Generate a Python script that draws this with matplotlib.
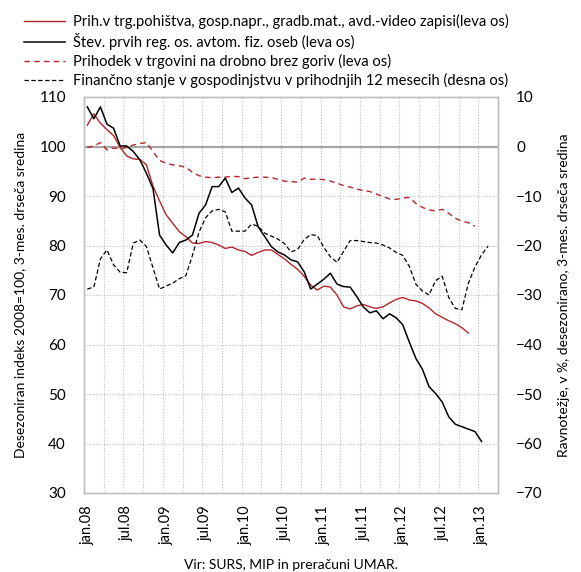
import matplotlib
matplotlib.use("Agg")
import matplotlib.pyplot as plt
import pandas as pd

plt.rcParams['font.family'] = ['Lato', 'DejaVu Sans']

months = pd.period_range('2008-01', '2013-03', freq='M')
tick_idx = [0, 6, 12, 18, 24, 30, 36, 42, 48, 54, 60]
tick_labels = ['jan.08', 'jul.08', 'jan.09', 'jul.09', 'jan.10', 'jul.10',
               'jan.11', 'jul.11', 'jan.12', 'jul.12', 'jan.13']

# Left axis series (index 2008=100)
furniture = [104.3, 106.6, 104.7, 103.4, 102.2, 99.8, 98.1, 97.5, 97.4, 96.3,
             92.0, 89.0, 86.2, 84.5, 82.8, 81.8, 80.5, 80.4, 80.8, 80.6,
             80.1, 79.4, 79.7, 79.1, 78.8, 78.0, 78.6, 79.1, 79.1, 78.2,
             77.3, 76.2, 75.2, 73.8, 72.0, 71.0, 71.8, 71.6, 70.0, 67.6,
             67.2, 67.8, 68.1, 67.6, 67.3, 67.6, 68.4, 69.1, 69.5, 69.0,
             68.8, 68.3, 67.4, 66.2, 65.5, 64.8, 64.2, 63.4, 62.3]
cars = [108.0, 105.6, 108.0, 104.5, 103.7, 100.1, 100.1, 99.0, 97.3, 94.6,
        91.5, 82.1, 80.1, 78.5, 80.6, 81.1, 82.1, 86.5, 88.2, 91.9,
        91.9, 93.6, 90.7, 91.6, 89.6, 88.2, 83.8, 81.8, 79.8, 78.7,
        78.1, 77.1, 76.7, 74.7, 71.2, 72.2, 73.2, 74.4, 72.2, 71.7,
        71.6, 69.7, 67.6, 66.4, 66.8, 65.2, 66.2, 65.4, 64.0, 60.5,
        57.2, 55.0, 51.5, 50.1, 48.4, 45.4, 43.9, 43.4, 42.9, 42.4,
        40.4]
retail = [99.8, 100.1, 100.8, 99.3, 99.7, 99.5, 99.8, 100.3, 100.6, 100.8,
          99.0, 97.2, 96.6, 96.3, 96.1, 95.8, 94.8, 94.1, 93.8, 93.7,
          93.8, 93.8, 94.0, 93.9, 93.5, 93.7, 93.8, 93.8, 93.7, 93.4,
          93.0, 92.9, 92.8, 93.6, 93.4, 93.4, 93.3, 93.0, 92.6, 92.1,
          91.8, 91.4, 91.1, 90.9, 90.4, 89.9, 89.4, 89.3, 89.6, 89.7,
          88.5, 87.7, 87.2, 87.0, 87.3, 86.5, 85.5, 84.9, 84.6, 83.9]
# Right axis series (balance, %)
finance = [-28.8, -28.4, -22.7, -20.9, -23.9, -25.4, -25.5, -19.5, -18.9, -20.2,
           -24.5, -28.8, -28.2, -27.6, -26.7, -26.1, -22.0, -17.3, -14.4, -13.0,
           -12.7, -13.2, -17.1, -17.1, -17.1, -15.7, -16.1, -17.5, -18.1, -18.7,
           -19.6, -21.3, -20.8, -18.8, -17.8, -18.0, -20.4, -22.3, -23.4, -21.2,
           -19.0, -19.0, -19.2, -19.4, -19.5, -19.9, -20.5, -21.4, -22.0, -24.2,
           -27.8, -29.2, -30.0, -27.1, -26.2, -30.5, -32.7, -33.0, -27.6, -24.3,
           -21.9, -20.1]

labels = ['Prih.v trg.pohištva, gosp.napr., gradb.mat., avd.-video zapisi(leva os)',
          'Štev. prvih reg. os. avtom. fiz. oseb (leva os)',
          'Prihodek v trgovini na drobno brez goriv (leva os)',
          'Finančno stanje v gospodinjstvu v prihodnjih 12 mesecih (desna os)']

RED = '#b3262c'
GRID = '#bfbfbf'
FS = 10

fig = plt.figure(figsize=(5.81, 5.72), dpi=100)
ax = fig.add_axes([84/581, 1-493/572, 414/581, 396/572])
ax2 = ax.twinx()

n = len(months)
ax.set_xlim(-0.5, n - 0.5)
ax.set_ylim(30, 110)
ax2.set_ylim(-70, 10)

# grid
for v in range(40, 111, 10):
    ax.axhline(v, color=GRID, lw=0.8, ls=(0, (1, 1.5)), zorder=0)
for x in [i - 0.5 for i in range(3, n, 3)]:
    ax.axvline(x, color=GRID, lw=0.8, ls=(0, (1, 1.5)), zorder=0)
ax.axhline(100, color='#a6a6a6', lw=1.6, zorder=1)

l1, = ax.plot(range(len(furniture)), furniture, color=RED, lw=1.0, zorder=3)
l2, = ax.plot(range(len(cars)), cars, color='black', lw=1.1, zorder=4)
l3, = ax.plot(range(len(retail)), retail, color=RED, lw=1.0, dashes=(4, 3), zorder=3)
l4, = ax2.plot(range(len(finance)), finance, color='black', lw=0.9, dashes=(3.5, 2), zorder=3)

ax.set_yticks(range(30, 111, 10))
ax2.set_yticks(range(-70, 11, 10))
ax.set_xticks(tick_idx)
ax.set_xticklabels(tick_labels, rotation=90, fontsize=FS + 0.5)
ax.tick_params(axis='x', length=0, pad=9)
ax.tick_params(axis='y', length=0, pad=13, labelsize=FS + 1)
ax2.tick_params(axis='y', length=0, pad=13, labelsize=FS + 1)

for a in (ax, ax2):
    for s in a.spines.values():
        s.set_color(GRID)
        s.set_linewidth(1.0)

ax.set_ylabel('Desezoniran indeks 2008=100, 3-mes. drseča sredina', fontsize=FS)
ax.yaxis.set_label_coords(-0.14, 0.5)
ax2.set_ylabel('Ravnotežje, v %, desezonirano, 3-mes. drseča sredina', fontsize=FS)
ax2.yaxis.set_label_coords(1.145, 0.5)

fig.text(0.5, 1 - 565/572, 'Vir: SURS, MIP in preračuni UMAR.', ha='center', va='center', fontsize=FS)

fig.legend([l1, l2, l3, l4], labels, loc='upper left', bbox_to_anchor=(24/581, 1 - 14/572),
           frameon=False, fontsize=FS + 0.6, handlelength=2.8, handletextpad=0.55,
           labelspacing=0.26, borderaxespad=0, borderpad=0)

fig.savefig('out.png', dpi=100)
